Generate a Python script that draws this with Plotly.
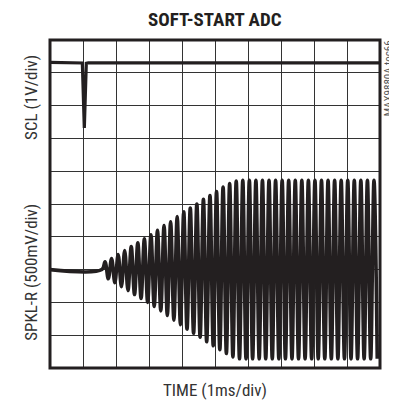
import plotly.graph_objects as go

# ---- data ----
# time axis: ms (1 ms/div), 10 divisions
time_range = [0, 10]

# SCL trace (V, 1 V/div)
scl_t = [0.00, 0.98, 1.04, 1.10, 1.16, 10.00]
scl_v = [2.02, 2.00, 0.02, 1.99, 2.00, 2.00]

# SPKL-R trace (V, 500 mV/div): flat lead-in, then per-cycle peaks / troughs
spk_lead_t = [0.00, 1.57]
spk_lead_v = [0.00, 0.00]

spk_peak_t = [1.667, 1.866, 2.065, 2.263, 2.462, 2.661, 2.860, 3.059, 3.257, 3.456,
              3.655, 3.854, 4.053, 4.251, 4.450, 4.649, 4.848, 5.047, 5.245, 5.444,
              5.643, 5.842, 6.041, 6.239, 6.438, 6.637, 6.836, 7.035, 7.233, 7.432,
              7.631, 7.830, 8.029, 8.227, 8.426, 8.625, 8.824, 9.023, 9.221, 9.420,
              9.619, 9.818]
spk_peak_v = [0.12, 0.17, 0.23, 0.29, 0.35, 0.41, 0.47, 0.53, 0.60, 0.67,
              0.73, 0.81, 0.88, 0.94, 1.00, 1.07, 1.13, 1.19, 1.26, 1.31,
              1.35, 1.36, 1.36, 1.36, 1.36, 1.36, 1.36, 1.36, 1.36, 1.36,
              1.36, 1.36, 1.36, 1.36, 1.36, 1.36, 1.36, 1.36, 1.36, 1.36,
              1.36, 1.36]
spk_trough_t = [1.766, 1.965, 2.164, 2.363, 2.561, 2.760, 2.959, 3.158, 3.357, 3.555,
                3.754, 3.953, 4.152, 4.351, 4.549, 4.748, 4.947, 5.146, 5.345, 5.543,
                5.742, 5.941, 6.140, 6.339, 6.537, 6.736, 6.935, 7.134, 7.333, 7.531,
                7.730, 7.929, 8.128, 8.327, 8.525, 8.724, 8.923, 9.122, 9.321, 9.519,
                9.718, 9.917]
spk_trough_v = [-0.14, -0.20, -0.26, -0.32, -0.38, -0.44, -0.50, -0.56, -0.63, -0.70,
                -0.77, -0.84, -0.91, -0.97, -1.03, -1.10, -1.16, -1.22, -1.28, -1.33,
                -1.36, -1.36, -1.36, -1.36, -1.36, -1.36, -1.36, -1.36, -1.36, -1.36,
                -1.36, -1.36, -1.36, -1.36, -1.36, -1.36, -1.36, -1.36, -1.36, -1.36,
                -1.36, -1.36]

scl_range = [-7.3, 2.7]    # 1 V/div, 10 div
spk_range = [-1.5, 3.5]    # 0.5 V/div, 10 div

# ---- build SPKL-R series from the listed points ----
spk_t = list(spk_lead_t)
spk_v = list(spk_lead_v)
for pt, pv, tt, tv in zip(spk_peak_t, spk_peak_v, spk_trough_t, spk_trough_v):
    spk_t += [pt, tt]
    spk_v += [pv, tv]

INK = "#231f20"
NARROW = "Liberation Sans Narrow, Arial Narrow, Roboto Condensed, Liberation Sans, sans-serif"

fig = go.Figure()
fig.add_trace(go.Scatter(x=spk_t, y=spk_v, mode="lines", yaxis="y2",
                         line=dict(color=INK, width=3.6, shape="spline"),
                         hoverinfo="skip", showlegend=False))
fig.add_trace(go.Scatter(x=scl_t, y=scl_v, mode="lines", yaxis="y",
                         line=dict(color=INK, width=3.2),
                         hoverinfo="skip", showlegend=False))

# page body has an 8px margin, so the figure is offset by 8px; compensate in margins
fig.update_layout(
    width=389, height=396,
    margin=dict(l=42, r=17, t=32, b=36),
    paper_bgcolor="white", plot_bgcolor="white",
    showlegend=False,
    xaxis=dict(range=time_range, dtick=1, tick0=0, showgrid=True, gridcolor="#333333",
               gridwidth=1, showticklabels=False, ticks="", zeroline=False,
               showline=False, fixedrange=True),
    yaxis=dict(range=scl_range, dtick=1, tick0=scl_range[0], showgrid=True,
               gridcolor="#333333", gridwidth=1, showticklabels=False, ticks="",
               zeroline=False, showline=False, fixedrange=True),
    yaxis2=dict(range=spk_range, overlaying="y", showgrid=False, showticklabels=False,
                ticks="", zeroline=False, showline=False, fixedrange=True),
    shapes=[dict(type="rect", xref="paper", yref="paper", x0=0, x1=1, y0=0, y1=1,
                 line=dict(color=INK, width=3), layer="above")],
    annotations=[
        dict(text="<b>SOFT-START ADC</b>", xref="paper", yref="paper", x=0.5, y=1.061,
             xanchor="center", yanchor="middle", showarrow=False,
             font=dict(family=NARROW, size=19, color=INK)),
        dict(text="TIME (1ms/div)", xref="paper", yref="paper", x=0.5, y=-0.067,
             xanchor="center", yanchor="middle", showarrow=False,
             font=dict(family=NARROW, size=17, color="#333333")),
        dict(text="SCL (1V/div)", xref="paper", yref="paper", x=-0.058, y=0.826,
             xanchor="center", yanchor="middle", textangle=-90, showarrow=False,
             font=dict(family=NARROW, size=17, color="#333333")),
        dict(text="SPKL-R (500mV/div)", xref="paper", yref="paper", x=-0.058, y=0.293,
             xanchor="center", yanchor="middle", textangle=-90, showarrow=False,
             font=dict(family=NARROW, size=17, color="#333333")),
        dict(text="MAX9880A toc66", xref="paper", yref="paper", x=1.025, y=0.884,
             xanchor="center", yanchor="middle", textangle=-90, showarrow=False,
             font=dict(family=NARROW, size=11, color="#555555")),
    ],
)

fig.write_html("out.html")
